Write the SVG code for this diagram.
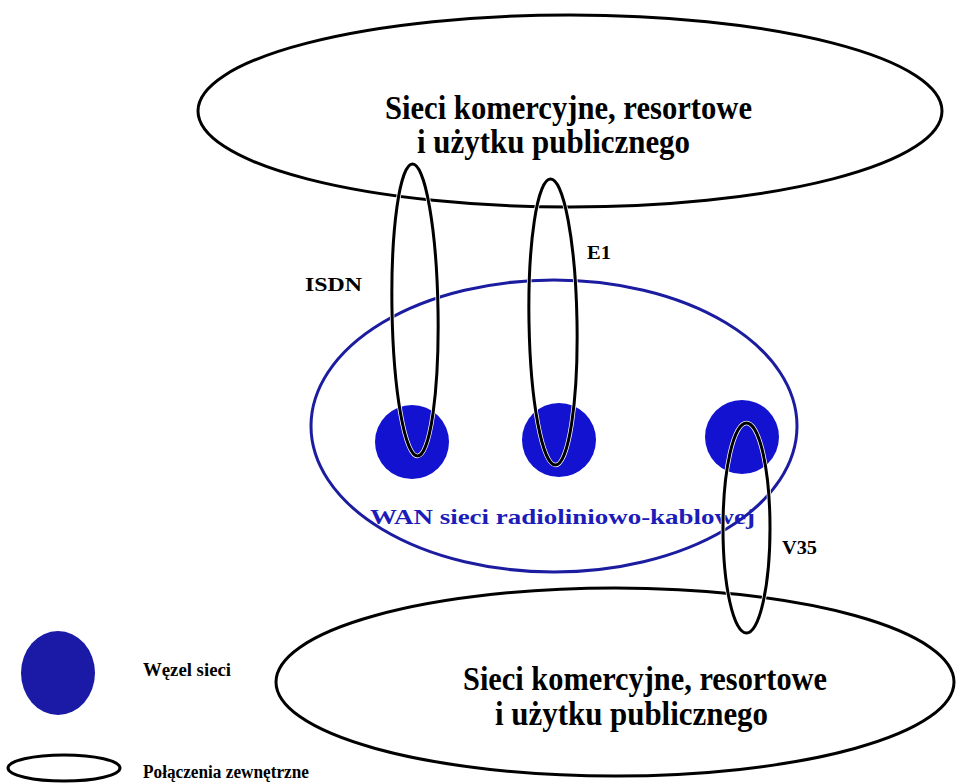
<svg xmlns="http://www.w3.org/2000/svg" width="956" height="784" viewBox="0 0 956 784">
  <style>
    .net { fill: none; stroke: #000; stroke-width: 3; }
    .halo { fill: none; stroke: #fff; stroke-width: 4.5; }
    .link { fill: none; stroke: #000; stroke-width: 3; }
    .wan { fill: none; stroke: #1c1ca0; stroke-width: 3; }
    .node { fill: #1212d0; }
    .big { font-family: "Liberation Serif", "DejaVu Serif", serif; font-weight: bold; font-size: 33px; fill: #000; }
    .lbl { font-family: "Liberation Serif", "DejaVu Serif", serif; font-weight: bold; font-size: 18px; fill: #000; }
    .wantxt { font-family: "Liberation Serif", "DejaVu Serif", serif; font-weight: bold; font-size: 21px; fill: #1c1cb8; }
  </style>

  <rect width="956" height="784" fill="#fff"/>

  <!-- upper external network -->
  <g id="net-top">
    <ellipse class="net" cx="570" cy="111" rx="372" ry="96"/>
    <text class="big" x="385" y="119" textLength="367" lengthAdjust="spacingAndGlyphs">Sieci komercyjne, resortowe</text>
    <text class="big" x="417" y="153" textLength="273" lengthAdjust="spacingAndGlyphs">i użytku publicznego</text>
  </g>

  <!-- lower external network -->
  <g id="net-bottom">
    <ellipse class="net" cx="615" cy="682" rx="339" ry="94"/>
    <text class="big" x="463" y="690" textLength="364" lengthAdjust="spacingAndGlyphs">Sieci komercyjne, resortowe</text>
    <text class="big" x="495" y="725" textLength="273" lengthAdjust="spacingAndGlyphs">i użytku publicznego</text>
  </g>

  <!-- WAN boundary -->
  <g id="wan">
    <ellipse class="wan" cx="554" cy="426" rx="243" ry="146"/>
    <text class="wantxt" x="370" y="524" textLength="385" lengthAdjust="spacingAndGlyphs">WAN sieci radioliniowo-kablowej</text>
  </g>

  <!-- WAN nodes -->
  <g id="node-1"><circle class="node" cx="412" cy="442" r="37"/></g>
  <g id="node-2"><circle class="node" cx="559" cy="440" r="37"/></g>
  <g id="node-3"><circle class="node" cx="742" cy="437" r="37"/></g>

  <!-- external connections -->
  <g id="connectors">
    <g id="link-isdn">
      <ellipse class="halo" cx="415" cy="310" rx="23" ry="146" transform="rotate(-1 415 310)"/>
      <ellipse class="link" cx="415" cy="310" rx="23" ry="146" transform="rotate(-1 415 310)"/>
      <text class="lbl" x="305" y="291" textLength="57" lengthAdjust="spacingAndGlyphs">ISDN</text>
    </g>
    <g id="link-e1">
      <ellipse class="halo" cx="553" cy="322" rx="24" ry="143" transform="rotate(-1 553 322)"/>
      <ellipse class="link" cx="553" cy="322" rx="24" ry="143" transform="rotate(-1 553 322)"/>
      <text class="lbl" x="587" y="259" textLength="24" lengthAdjust="spacingAndGlyphs">E1</text>
    </g>
    <g id="link-v35">
      <ellipse class="halo" cx="746.5" cy="528" rx="23.5" ry="105"/>
      <ellipse class="link" cx="746.5" cy="528" rx="23.5" ry="105"/>
      <text class="lbl" x="782" y="554" textLength="35" lengthAdjust="spacingAndGlyphs">V35</text>
    </g>
  </g>

  <!-- legend -->
  <g id="legend-node">
    <ellipse cx="58" cy="673" rx="37" ry="42" fill="#1a1aa6"/>
    <text class="lbl" x="143" y="676" textLength="88" lengthAdjust="spacingAndGlyphs">Węzel sieci</text>
  </g>
  <g id="legend-link">
    <ellipse class="link" cx="64" cy="768" rx="56" ry="13"/>
    <text class="lbl" x="143" y="778" textLength="166" lengthAdjust="spacingAndGlyphs">Połączenia zewnętrzne</text>
  </g>
</svg>
